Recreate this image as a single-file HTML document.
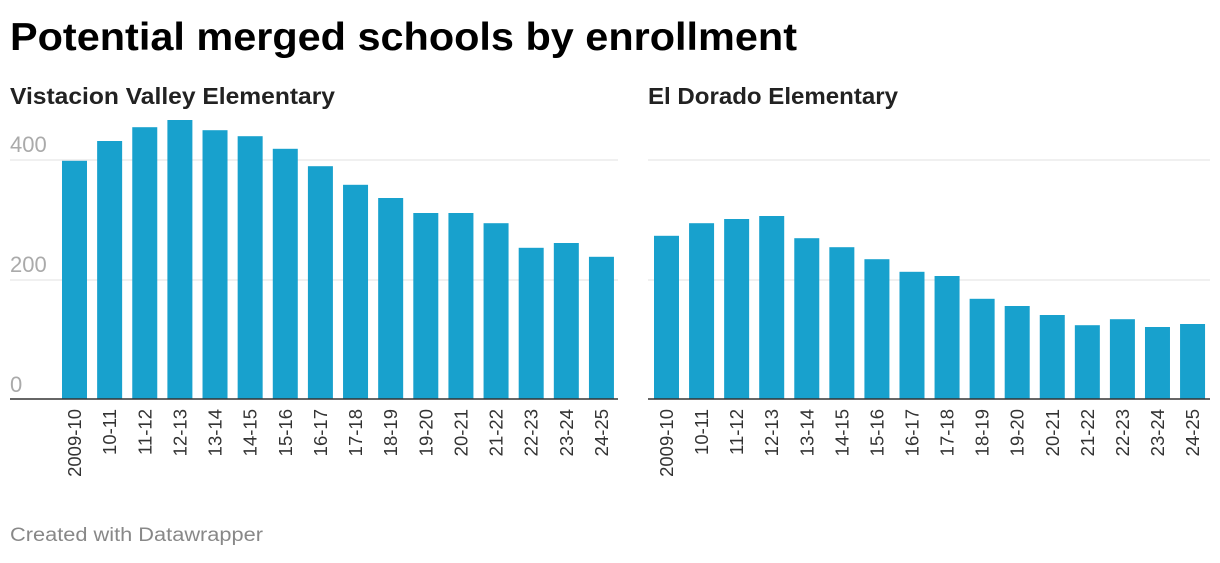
<!DOCTYPE html>
<html><head><meta charset="utf-8"><style>
body{margin:0;background:#fff;width:1220px;height:558px;overflow:hidden;font-family:"Liberation Sans",Arial,sans-serif}
</style></head><body>
<svg width="1220" height="558" xmlns="http://www.w3.org/2000/svg" id="svg">
<text x="10" y="50" font-size="39" font-weight="bold" fill="#000" textLength="787" lengthAdjust="spacingAndGlyphs">Potential merged schools by enrollment</text>
<text x="10" y="104" font-size="23" font-weight="bold" fill="#222" textLength="325" lengthAdjust="spacingAndGlyphs">Vistacion Valley Elementary</text>
<text x="648" y="104" font-size="23" font-weight="bold" fill="#222" textLength="250" lengthAdjust="spacingAndGlyphs">El Dorado Elementary</text>
<text x="10" y="541" font-size="19" fill="#888" textLength="253" lengthAdjust="spacingAndGlyphs">Created with Datawrapper</text>
<g id="g"></g>
</svg>
<script>
const categories=["2009-10","10-11","11-12","12-13","13-14","14-15","15-16","16-17","17-18","18-19","19-20","20-21","21-22","22-23","23-24","24-25"];
const vistacion=[397,430,453,465,448,438,417,388,357,335,310,310,293,252,260,237];
const eldorado=[272,293,300,305,268,253,233,212,205,167,155,140,123,133,120,125];
const yTicks=[0,200,400];
const NS="http://www.w3.org/2000/svg";
const g=document.getElementById('g');
function mk(t,a){const e=document.createElementNS(NS,t);for(const k in a)e.setAttribute(k,a[k]);g.appendChild(e);return e;}
const y0=399,ppu=0.6;
function y(v){return y0-v*ppu;}
function panel(vals,gx0,gx1,bx0,step,name,showLabels){
  yTicks.forEach(t=>{
    if(t>0){const l=mk('line',{x1:gx0,x2:gx1,y1:y(t)+1,y2:y(t)+1,stroke:'#e0e0e0','stroke-width':1});
    
    }
    if(showLabels){const tx=mk('text',{x:10,y:y(t)-7,'font-size':22,fill:'#aaa'});tx.textContent=t;
    
    }
  });
  vals.forEach((v,i)=>{
    const x=bx0+i*step;
    const r=mk('rect',{x:x,y:y(v),width:25,height:v*ppu,fill:'#18a1cd'});
    
    
    const tx=mk('text',{transform:`translate(${x+19},409) rotate(-90)`,'text-anchor':'end','font-size':18.5,fill:'#333'});
    tx.textContent=categories[i];
    
    
  });
  const b=mk('line',{x1:gx0,x2:gx1,y1:y0,y2:y0,stroke:'#333','stroke-width':1.5});
  
  
}
panel(vistacion,10,618,62,35.13,'vistacion',true);
panel(eldorado,648,1210,654,35.07,'eldorado',false);
</script>
</body></html>
